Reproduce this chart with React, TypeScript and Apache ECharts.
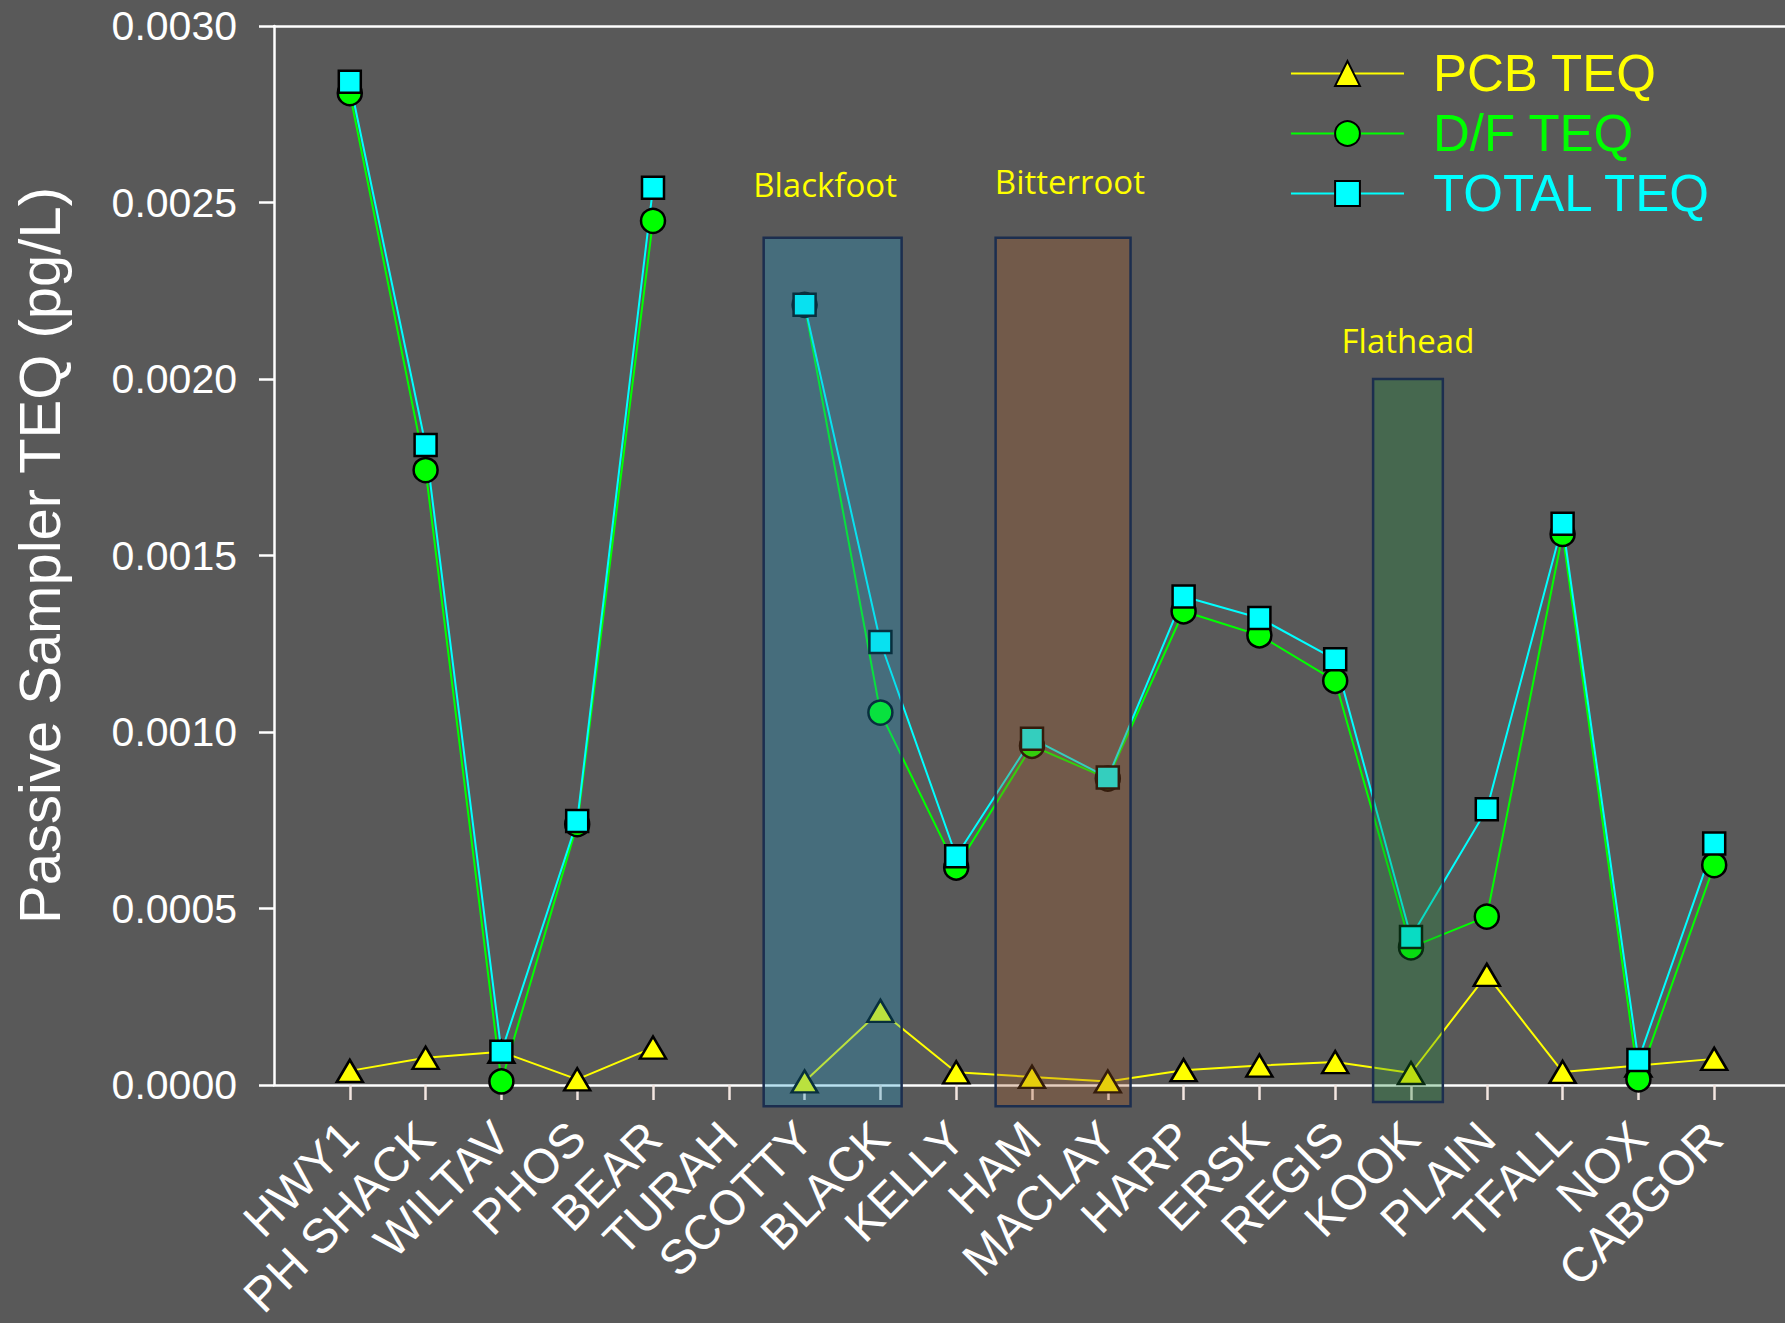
import React, { useEffect, useRef } from 'react';
import * as echarts from 'echarts';

const sites = ['HWY1', 'PH SHACK', 'WILTAV', 'PHOS', 'BEAR', 'TURAH', 'SCOTTY', 'BLACK', 'KELLY', 'HAM', 'MACLAY', 'HARP', 'ERSK', 'REGIS', 'KOOK', 'PLAIN', 'TFALL', 'NOX', 'CABGOR'];
const pcbTeq = [0.00004, 0.000077, 0.000094, 0.000016, 0.000106, null, 0.00001, 0.00021, 0.000036, 0.000023, 0.00001, 0.000042, 0.000055, 0.000065, 0.000034, 0.000312, 0.000037, 0.000055, 0.000074];
const dfTeq = [0.00281, 0.001742, 0.00001, 0.000739, 0.002448, null, 0.00221, 0.001055, 0.000616, 0.000961, 0.000868, 0.001342, 0.001274, 0.001145, 0.00039, 0.000477, 0.001561, 0.000016, 0.000623];
const totalTeq = [0.002842, 0.001813, 0.000094, 0.000748, 0.002542, null, 0.00221, 0.001255, 0.000648, 0.000981, 0.000871, 0.001384, 0.001323, 0.001206, 0.000419, 0.000781, 0.00159, 0.000071, 0.000684];
const yTicks = { min: 0, max: 0.003, interval: 0.0005 };

// Watershed highlight regions (x in site-index units, HWY1 = 0; y in pg/L)
const regionNames = ['Blackfoot', 'Bitterroot', 'Flathead'];
const regionX0 = [5.46, 8.52, 13.5];
const regionX1 = [7.28, 10.3, 14.42];
const regionTop = [0.0024, 0.0024, 0.002];
const regionBottom = [-0.00006, -0.00006, -0.000048];
const regionLabelX = [6.27, 9.5, 13.96];
const regionLabelY = [0.00255, 0.00256, 0.00211];
const regionFills = ['rgba(26,156,206,0.3)', 'rgba(172,92,39,0.3)', 'rgba(26,139,56,0.3)'];

const FONT = 'Liberation Sans, Arial, sans-serif';

export default function App() {
  const ref = useRef<HTMLDivElement>(null);
  useEffect(() => {
    if (!ref.current) return;
    const chart = echarts.init(ref.current, null, { renderer: 'svg' });
    const cats = ['', ...sites, ''];
    const pad = (a: (number | null)[]) => [null, ...a, null];
    const option: any = {
      animation: false,
      backgroundColor: '#595959',
      textStyle: { fontFamily: FONT },
      grid: { left: 274, width: 1516, top: 26, height: 1059, containLabel: false, outerBoundsMode: 'none' },
      legend: {
        orient: 'vertical',
        left: 1285,
        top: 43,
        itemWidth: 113,
        itemHeight: 31,
        itemGap: 9,
        textStyle: { fontSize: 51, fontFamily: FONT, padding: [0, 0, 0, 24] },
        data: [
          { name: 'PCB TEQ', textStyle: { color: '#ffff00' } },
          { name: 'D/F TEQ', textStyle: { color: '#00ff00' } },
          { name: 'TOTAL TEQ', textStyle: { color: '#00ffff' } },
        ],
      },
      xAxis: [
        {
          type: 'category',
          data: cats,
          boundaryGap: false,
          axisLine: { show: true, onZero: false, lineStyle: { color: '#ffffff', width: 2.5 } },
          axisTick: {
            show: true,
            length: 15,
            interval: (i: number) => i > 0 && i < cats.length - 1,
            lineStyle: { color: '#f3e6e1', width: 2.5 },
          },
          axisLabel: {
            interval: 0,
            rotate: 45,
            color: '#ffffff',
            fontSize: 48,
            margin: 45,
            fontFamily: FONT,
          },
          splitLine: { show: false },
        },
        {
          type: 'value',
          min: -1,
          max: sites.length,
          position: 'top',
          axisLine: { show: true, onZero: false, lineStyle: { color: '#ffffff', width: 2.5 } },
          axisTick: { show: false },
          axisLabel: { show: false },
          splitLine: { show: false },
        },
      ],
      yAxis: {
        type: 'value',
        min: yTicks.min,
        max: yTicks.max,
        interval: yTicks.interval,
        name: 'Passive Sampler TEQ (pg/L)',
        nameLocation: 'middle',
        nameGap: 206,
        nameTextStyle: { color: '#ffffff', fontSize: 58, fontFamily: FONT },
        axisLine: { show: true, onZero: false, lineStyle: { color: '#ffffff', width: 2.5 } },
        axisTick: { show: true, length: 15, lineStyle: { color: '#ffffff', width: 2.5 } },
        axisLabel: { color: '#ffffff', fontSize: 41, margin: 37, fontFamily: FONT, formatter: (v: number) => v.toFixed(4) },
        splitLine: { show: false },
      },
      series: [
        {
          name: 'PCB TEQ',
          type: 'line',
          data: pad(pcbTeq),
          symbol: 'triangle',
          symbolSize: [26, 22],
          showAllSymbol: true,
          connectNulls: false,
          lineStyle: { color: '#ffff00', width: 2 },
          itemStyle: { color: '#ffff00', borderColor: '#000000', borderWidth: 2.5 },
          z: 2,
        },
        {
          name: 'D/F TEQ',
          type: 'line',
          data: pad(dfTeq),
          symbol: 'circle',
          symbolSize: 24,
          showAllSymbol: true,
          connectNulls: false,
          lineStyle: { color: '#00ff00', width: 2 },
          itemStyle: { color: '#00ff00', borderColor: '#000000', borderWidth: 2.5 },
          z: 2,
        },
        {
          name: 'TOTAL TEQ',
          type: 'line',
          data: pad(totalTeq),
          symbol: 'rect',
          symbolSize: 22,
          showAllSymbol: true,
          connectNulls: false,
          lineStyle: { color: '#00ffff', width: 2 },
          itemStyle: { color: '#00ffff', borderColor: '#000000', borderWidth: 2.5 },
          z: 2,
        },
        {
          type: 'custom',
          xAxisIndex: 1,
          yAxisIndex: 0,
          silent: true,
          z: 5,
          data: regionNames.map((_, i) => [regionX0[i], regionX1[i], regionTop[i], regionBottom[i], regionLabelX[i], regionLabelY[i], i]),
          renderItem: (params: any, api: any) => {
            const i = api.value(6);
            const p0 = api.coord([api.value(0), api.value(2)]);
            const p1 = api.coord([api.value(1), api.value(3)]);
            const lp = api.coord([api.value(4), api.value(5)]);
            return {
              type: 'group',
              children: [
                {
                  type: 'rect',
                  shape: { x: p0[0], y: p0[1], width: p1[0] - p0[0], height: p1[1] - p0[1] },
                  style: { fill: regionFills[i], stroke: '#1c2e4f', lineWidth: 2.5 },
                },
                {
                  type: 'text',
                  x: lp[0],
                  y: lp[1],
                  style: {
                    text: regionNames[i],
                    fill: '#ffff00',
                    fontSize: 33,
                    fontFamily: 'Open Sans',
                    align: 'center',
                    verticalAlign: 'middle',
                  },
                },
              ],
            };
          },
        },
      ],
    };
    chart.setOption(option);
    return () => chart.dispose();
  }, []);
  return <div ref={ref} style={{ position: 'absolute', left: 0, top: 0, width: 1785, height: 1323 }} />;
}
